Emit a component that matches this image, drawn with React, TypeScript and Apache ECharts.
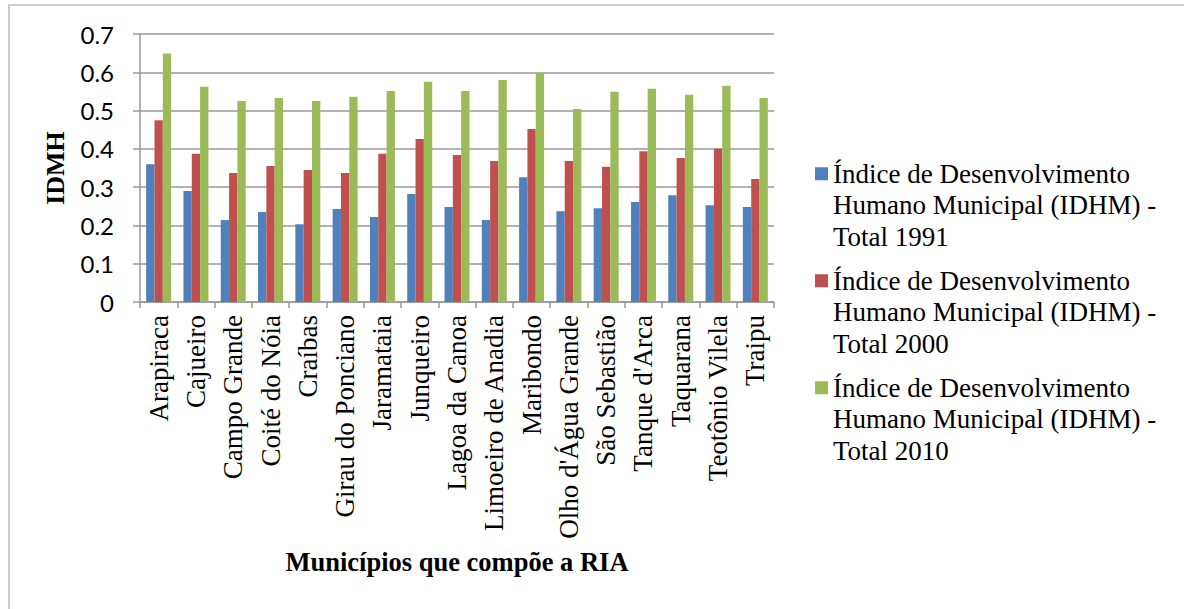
import React, { useEffect, useRef } from "react";
import * as echarts from "echarts";

const categories = [
  "Arapiraca", "Cajueiro", "Campo Grande", "Coité do Nóia", "Craíbas",
  "Girau do Ponciano", "Jaramataia", "Junqueiro", "Lagoa da Canoa",
  "Limoeiro de Anadia", "Maribondo", "Olho d'Água Grande", "São Sebastião",
  "Tanque d'Arca", "Taquarana", "Teotônio Vilela", "Traipu",
];

const idhm1991 = [0.360, 0.290, 0.214, 0.235, 0.203, 0.243, 0.222, 0.282, 0.248, 0.214, 0.326, 0.237, 0.245, 0.261, 0.279, 0.253, 0.248];
const idhm2000 = [0.475, 0.387, 0.337, 0.355, 0.345, 0.337, 0.387, 0.426, 0.384, 0.368, 0.452, 0.368, 0.353, 0.394, 0.376, 0.400, 0.321];
const idhm2010 = [0.649, 0.562, 0.525, 0.533, 0.525, 0.536, 0.551, 0.575, 0.551, 0.580, 0.599, 0.504, 0.549, 0.557, 0.541, 0.565, 0.533];

const seriesNames = [
  "Índice de Desenvolvimento Humano Municipal (IDHM) - Total 1991",
  "Índice de Desenvolvimento Humano Municipal (IDHM) - Total 2000",
  "Índice de Desenvolvimento Humano Municipal (IDHM) - Total 2010",
];
const seriesColors = ["#4F81BD", "#C0504D", "#9BBB59"];

const yMin = 0;
const yMax = 0.7;
const yInterval = 0.1;

const xTitle = "Municípios que compõe a RIA";
const yTitle = "IDMH";

const serif = "'Liberation Serif', 'Times New Roman', serif";
const sans = "Lato, 'Open Sans', sans-serif";

export default function App() {
  const ref = useRef<HTMLDivElement>(null);
  useEffect(() => {
    if (!ref.current) return;
    const chart = echarts.init(ref.current, undefined, { renderer: "svg" });
    const values = [idhm1991, idhm2000, idhm2010];
    chart.setOption({
      animation: false,
      backgroundColor: "#ffffff",
      grid: { left: 140, right: 410, top: 34, bottom: 307, containLabel: false },
      graphic: [
        {
          type: "rect",
          shape: { x: 9, y: 5, width: 1300, height: 800 },
          style: { fill: "none", stroke: "#cccccc", lineWidth: 2 },
          silent: true,
        },
      ],
      legend: {
        orient: "vertical",
        left: 815,
        top: 95,
        padding: 0,
        itemWidth: 13,
        itemHeight: 13,
        itemGap: -50.5,
        icon: "rect",
        data: seriesNames,
        formatter: (name: string) =>
          "\n\n" + name.replace(" Humano", "\nHumano").replace(" - ", " -\n"),
        textStyle: {
          fontFamily: serif,
          fontSize: 27,
          lineHeight: 31.5,
          color: "#000",
        },
      },
      xAxis: {
        type: "category",
        data: categories,
        name: xTitle,
        nameLocation: "middle",
        nameGap: 246,
        nameTextStyle: { fontFamily: serif, fontSize: 26.5, fontWeight: "bold", color: "#000" },
        axisLine: { lineStyle: { color: "#999999", width: 1.5 } },
        axisTick: { show: true, length: 6, lineStyle: { color: "#999999", width: 1.5 } },
        axisLabel: {
          rotate: 90,
          margin: 13,
          fontFamily: serif,
          fontSize: 27,
          color: "#000",
          interval: 0,
        },
      },
      yAxis: {
        type: "value",
        min: yMin,
        max: yMax,
        interval: yInterval,
        name: yTitle,
        nameLocation: "middle",
        nameGap: 72,
        nameTextStyle: { fontFamily: serif, fontSize: 26, fontWeight: "bold", color: "#000" },
        axisLine: { show: true, lineStyle: { color: "#999999", width: 1.5 } },
        axisTick: { show: true, length: 7, lineStyle: { color: "#999999", width: 1.5 } },
        splitLine: { show: true, lineStyle: { color: "#999999", width: 1.5 } },
        axisLabel: {
          margin: 26,
          fontFamily: sans,
          fontSize: 24,
          color: "#000",
          formatter: (v: number) => (v === 0 ? "0" : v.toFixed(1)),
        },
      },
      series: values.map((vals, i) => ({
        type: "bar",
        name: seriesNames[i],
        data: vals,
        barGap: "0%",
        barCategoryGap: "33%",
        itemStyle: { color: seriesColors[i] },
      })),
    });
    return () => chart.dispose();
  }, []);
  return (
    <div
      ref={ref}
      style={{ position: "absolute", left: 0, top: 0, width: 1184, height: 609 }}
    />
  );
}
